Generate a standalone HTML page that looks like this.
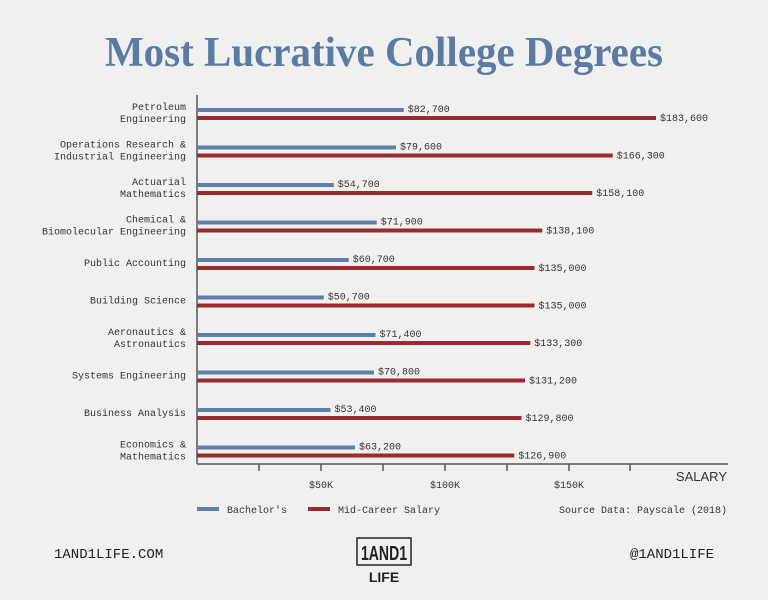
<!DOCTYPE html>
<html><head><meta charset="utf-8"><style>
body{margin:0;width:768px;height:600px;background:#f0f0ef;overflow:hidden}
svg{display:block}
.m{font-family:"Liberation Mono",monospace;font-size:10px;fill:#333}
</style></head><body>
<svg width="768" height="600" xmlns="http://www.w3.org/2000/svg">
<text x="384" y="66" text-anchor="middle" font-family="Liberation Serif,serif" font-weight="bold" font-size="42" fill="#5b7ba5" textLength="558" lengthAdjust="spacingAndGlyphs">Most Lucrative College Degrees</text>
<line x1="197" y1="95" x2="197" y2="464" stroke="#555" stroke-width="1.5"/>
<line x1="197" y1="464" x2="728" y2="464" stroke="#555" stroke-width="1.5"/>
<g stroke="#555" stroke-width="1.5">
<line x1="259" y1="464" x2="259" y2="471"/><line x1="321" y1="464" x2="321" y2="471"/><line x1="383" y1="464" x2="383" y2="471"/><line x1="445" y1="464" x2="445" y2="471"/><line x1="507" y1="464" x2="507" y2="471"/><line x1="569" y1="464" x2="569" y2="471"/><line x1="630" y1="464" x2="630" y2="471"/></g>
<g class="m" text-anchor="middle"><text x="321" y="488">$50K</text><text x="445" y="488">$100K</text><text x="569" y="488">$150K</text></g>
<text x="727" y="481" text-anchor="end" font-family="Liberation Sans,sans-serif" font-size="13" fill="#333">SALARY</text>
<g id="bars"></g>
<rect x="197" y="507" width="22" height="4" fill="#5f7fa8"/><text class="m" x="227" y="513">Bachelor's</text>
<rect x="308" y="507" width="22" height="4" fill="#9b2a2c"/><text class="m" x="338" y="513">Mid-Career Salary</text>
<text class="m" x="727" y="513" text-anchor="end">Source Data: Payscale (2018)</text>
<text x="54" y="558" font-family="Liberation Mono,monospace" font-size="14" fill="#222">1AND1LIFE.COM</text>
<text x="714" y="558" text-anchor="end" font-family="Liberation Mono,monospace" font-size="14" fill="#222">@1AND1LIFE</text>
<rect x="357" y="538" width="54" height="27" fill="none" stroke="#222" stroke-width="1.5"/>
<text x="384" y="560" text-anchor="middle" font-family="Liberation Sans,sans-serif" font-weight="bold" font-size="20" fill="#222" textLength="46" lengthAdjust="spacingAndGlyphs">1AND1</text>
<text x="384" y="582" text-anchor="middle" font-family="Liberation Sans,sans-serif" font-weight="bold" font-size="14" fill="#222">LIFE</text>
</svg>
<script>
var d=[["Petroleum","Engineering",82.7,183.6],["Operations Research &","Industrial Engineering",79.6,166.3],["Actuarial","Mathematics",54.7,158.1],["Chemical &","Biomolecular Engineering",71.9,138.1],["Public Accounting","",60.7,135],["Building Science","",50.7,135],["Aeronautics &","Astronautics",71.4,133.3],["Systems Engineering","",70.8,131.2],["Business Analysis","",53.4,129.8],["Economics &","Mathematics",63.2,126.9]];
var g=document.getElementById("bars"),s="",k=2.5;
function f(v){return "$"+Math.floor(v)+","+(Math.round(v*10)%10)+"00";}
d.forEach(function(r,i){var y=110+i*37.5;
var bw=r[2]*k,mw=r[3]*k;
s+='<rect x="197" y="'+(y-2)+'" width="'+bw+'" height="4" fill="#5f7fa8"/>';
s+='<rect x="197" y="'+(y+6)+'" width="'+mw+'" height="4" fill="#9b2a2c"/>';
s+='<text class="m" x="'+(201+bw)+'" y="'+(y+2)+'">'+f(r[2])+'</text>';
s+='<text class="m" x="'+(201+mw)+'" y="'+(y+11)+'">'+f(r[3])+'</text>';
if(r[1]){s+='<text class="m" text-anchor="end" x="186" y="'+(y)+'">'+r[0].replace("&","&amp;")+'</text><text class="m" text-anchor="end" x="186" y="'+(y+12)+'">'+r[1]+'</text>';}
else s+='<text class="m" text-anchor="end" x="186" y="'+(y+6)+'">'+r[0]+'</text>';
});
g.innerHTML=s;
</script>
</body></html>
